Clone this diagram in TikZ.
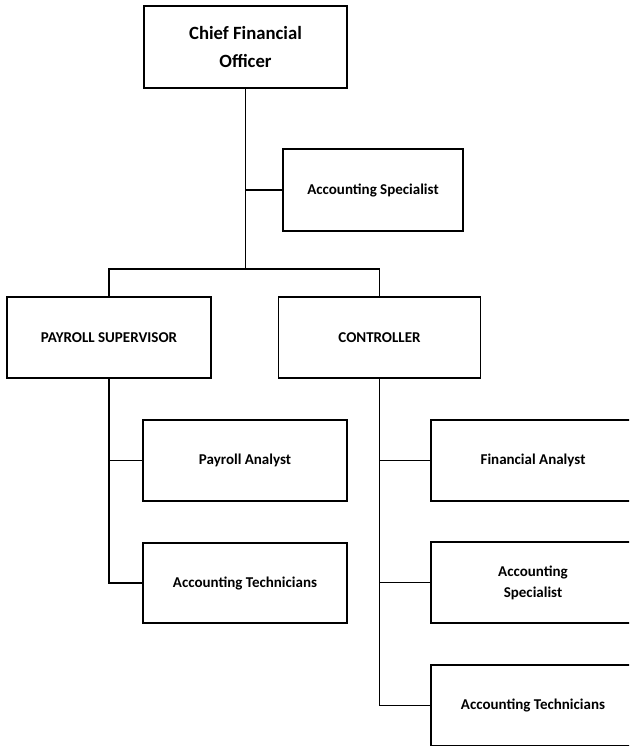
\documentclass[tikz,border=0pt]{standalone}
\usepackage{fontspec}
\setmainfont{Carlito}
\begin{document}
\begin{tikzpicture}[x=1pt,y=-1pt,
  box/.style={draw, line width=1.2pt, rectangle, align=center, font=\fontsize{15}{21}\selectfont\bfseries, inner sep=2pt},
  topbox/.style={box, line width=2.3pt, font=\fontsize{18.7}{28}\selectfont\bfseries},
  link/.style={line width=1.2pt}]
\useasboundingbox (0,0) rectangle (629,746);
\clip (0,0) rectangle (629,746);
\node[topbox, minimum width=203pt, minimum height=82pt] (cfo) at (245.5,47) {Chief Financial\\Officer};
\node[box, minimum width=180pt, minimum height=82pt] (as1) at (373,190) {Accounting Specialist};
\node[box, minimum width=204pt, minimum height=81pt] (ps) at (109,337.5) {PAYROLL SUPERVISOR};
\node[box, minimum width=202pt, minimum height=81pt] (ctrl) at (379.5,337.5) {CONTROLLER};
\node[box, minimum width=204pt, minimum height=81pt] (pa) at (245,460.5) {Payroll Analyst};
\node[box, minimum width=204pt, minimum height=80pt] (at1) at (245,583) {Accounting Technicians};
\node[box, minimum width=204pt, minimum height=81pt] (fa) at (533,460.5) {Financial Analyst};
\node[box, minimum width=204pt, minimum height=81pt] (as2) at (533,582.5) {Accounting\\Specialist};
\node[box, minimum width=204pt, minimum height=81pt] (at2) at (533,705.5) {Accounting Technicians};
\coordinate (j) at (245.5,269);
\draw[link] (cfo.south) -- (j);
\draw[link] (cfo.south |- as1.west) -- (as1.west);
\draw[link] (ps.north) |- (j) -| (ctrl.north);
\draw[link] (ps.south) |- (at1.west);
\draw[link] (ps.south |- pa.west) -- (pa.west);
\draw[link] (ctrl.south) |- (at2.west);
\draw[link] (ctrl.south |- fa.west) -- (fa.west);
\draw[link] (ctrl.south |- as2.west) -- (as2.west);
\end{tikzpicture}
\end{document}
